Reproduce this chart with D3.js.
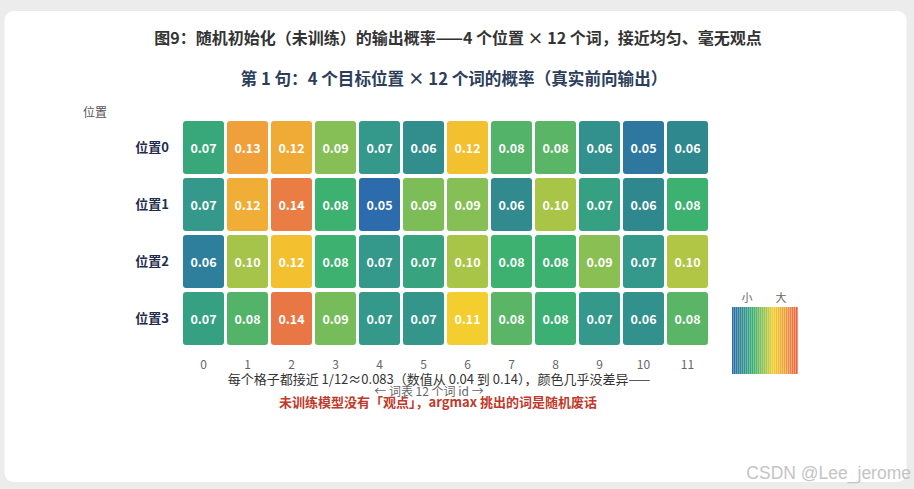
<!DOCTYPE html>
<html>
<head>
<meta charset="utf-8">
<script src="https://cdn.jsdelivr.net/npm/d3@7"></script>
<style>
  body { margin: 0; background: #ececec; }
  svg { display: block; font-family: "Noto Sans CJK SC", "Noto Sans", sans-serif; }
</style>
</head>
<body>
<div id="chart"></div>
<script>
// 4 个位置 × 12 个词的概率
const positions = ["位置0", "位置1", "位置2", "位置3"];
const tokenIds = ["0", "1", "2", "3", "4", "5", "6", "7", "8", "9", "10", "11"];
const probRow0 = [0.074, 0.130, 0.124, 0.092, 0.068, 0.063, 0.117, 0.083, 0.084, 0.064, 0.052, 0.060];
const probRow1 = [0.068, 0.123, 0.140, 0.080, 0.046, 0.090, 0.092, 0.061, 0.100, 0.071, 0.060, 0.080];
const probRow2 = [0.056, 0.099, 0.117, 0.080, 0.068, 0.072, 0.100, 0.080, 0.080, 0.093, 0.068, 0.101];
const probRow3 = [0.071, 0.083, 0.142, 0.089, 0.068, 0.067, 0.110, 0.084, 0.079, 0.068, 0.064, 0.084];
const probRows = [probRow0, probRow1, probRow2, probRow3];

// colour stops of the palette (value -> colour)
const colorStops = [0.045, 0.052, 0.056, 0.060, 0.068, 0.074, 0.080, 0.084, 0.090, 0.100, 0.110, 0.117, 0.124, 0.130, 0.141, 0.150];
const colorList = ["#2c6aae", "#2e789f", "#2e7f9b", "#30888f", "#34988a", "#38a87a", "#3cb170", "#5ab566",
                   "#7cbd58", "#a9c547", "#f4ce2f", "#f3c030", "#f0ab37", "#efa03b", "#e87a44", "#e8604a"];

const W = 914, H = 489;

const svg = d3.select("#chart").append("svg")
    .attr("width", W)
    .attr("height", H);

// white card
svg.append("rect")
    .attr("x", 4.5).attr("y", 11)
    .attr("width", 902).attr("height", 471)
    .attr("rx", 9)
    .attr("fill", "#fff");

// titles
svg.append("text")
    .attr("x", 458).attr("y", 44)
    .attr("text-anchor", "middle")
    .style("font-size", "16px").style("font-weight", "bold")
    .attr("fill", "#333")
    .text("图9：随机初始化（未训练）的输出概率——4 个位置 × 12 个词，接近均匀、毫无观点");

svg.append("text")
    .attr("x", 454).attr("y", 85)
    .attr("text-anchor", "middle")
    .style("font-size", "16.6px").style("font-weight", "bold")
    .attr("fill", "#2c3e5a")
    .text("第 1 句：4 个目标位置 × 12 个词的概率（真实前向输出）");

// scales
const x = d3.scaleBand().domain(tokenIds).range([180, 711]).padding(0.068);
const y = d3.scaleBand().domain(positions).range([117, 349]).padding(0.07);
const color = d3.scaleLinear().domain(colorStops).range(colorList).clamp(true);

const cells = [];
probRows.forEach((row, r) => {
    row.forEach((v, c) => cells.push({ pos: positions[r], tok: tokenIds[c], value: v }));
});

const g = svg.append("g");

g.selectAll(".cell")
    .data(cells)
    .enter().append("rect")
    .attr("class", "cell")
    .attr("x", d => x(d.tok))
    .attr("y", d => y(d.pos))
    .attr("width", x.bandwidth())
    .attr("height", y.bandwidth())
    .attr("rx", 3)
    .attr("fill", d => color(d.value));

g.selectAll(".cell-label")
    .data(cells)
    .enter().append("text")
    .attr("class", "cell-label")
    .attr("x", d => x(d.tok) + x.bandwidth() / 2)
    .attr("y", d => y(d.pos) + y.bandwidth() / 2)
    .attr("text-anchor", "middle")
    .attr("dominant-baseline", "central")
    .style("font-size", "12.5px").style("font-weight", "bold")
    .attr("fill", "#fff")
    .text(d => d3.format(".2f")(d.value));

// axes (no lines, only labels)
const xAxis = svg.append("g")
    .attr("transform", "translate(0,360)")
    .call(d3.axisBottom(x).tickSize(0).tickPadding(0));
xAxis.select(".domain").remove();
xAxis.selectAll("text")
    .style("font-size", "12px")
    .style("font-family", "\"Noto Sans CJK SC\", sans-serif")
    .attr("fill", "#666");

const yAxis = svg.append("g")
    .attr("transform", "translate(169,0)")
    .call(d3.axisLeft(y).tickSize(0).tickPadding(0));
yAxis.select(".domain").remove();
yAxis.selectAll("text")
    .style("font-size", "13px").style("font-weight", "bold")
    .style("font-family", "\"Noto Sans CJK SC\", sans-serif")
    .attr("fill", "#1f2d4d");

svg.append("text")
    .attr("x", 95).attr("y", 117)
    .attr("text-anchor", "middle")
    .style("font-size", "12px")
    .attr("fill", "#555")
    .text("位置");

svg.append("text")
    .attr("x", 429).attr("y", 396)
    .attr("text-anchor", "middle")
    .style("font-size", "12px")
    .attr("fill", "#666")
    .text("← 词表 12 个词 id →");

// notes under the grid
svg.append("text")
    .attr("x", 439).attr("y", 384)
    .attr("text-anchor", "middle")
    .style("font-size", "13px")
    .attr("fill", "#333")
    .text("每个格子都接近 1/12≈0.083（数值从 0.04 到 0.14），颜色几乎没差异——");

svg.append("text")
    .attr("x", 438).attr("y", 407)
    .attr("text-anchor", "middle")
    .style("font-size", "13px").style("font-weight", "bold")
    .attr("fill", "#c0392b")
    .text("未训练模型没有「观点」，argmax 挑出的词是随机废话");

// colour legend: thin stripes
const legendScale = d3.scaleLinear().domain([colorStops[0], colorStops[colorStops.length - 1]]).range([732, 798]);
const nStripes = 33;
const stripeW = 66 / nStripes;
const stripeVals = d3.range(nStripes).map(i => legendScale.invert(732 + (i + 0.5) * stripeW));
const legend = svg.append("g");
legend.selectAll("rect")
    .data(stripeVals)
    .enter().append("rect")
    .attr("x", d => legendScale(d) - stripeW / 2)
    .attr("y", 307)
    .attr("width", stripeW - 0.3)
    .attr("height", 67)
    .attr("fill", d => color(d));

legend.append("text")
    .attr("x", 747).attr("y", 302)
    .attr("text-anchor", "middle")
    .style("font-size", "11px")
    .attr("fill", "#666")
    .text("小");
legend.append("text")
    .attr("x", 781).attr("y", 302)
    .attr("text-anchor", "middle")
    .style("font-size", "11px")
    .attr("fill", "#666")
    .text("大");

// watermark
svg.append("text")
    .attr("x", 911).attr("y", 479)
    .attr("text-anchor", "end")
    .style("font-size", "17.5px")
    .style("font-family", "\"Liberation Sans\", Arial, sans-serif")
    .attr("fill", "#c4c4c4")
    .text("CSDN @Lee_jerome");
</script>
</body>
</html>
